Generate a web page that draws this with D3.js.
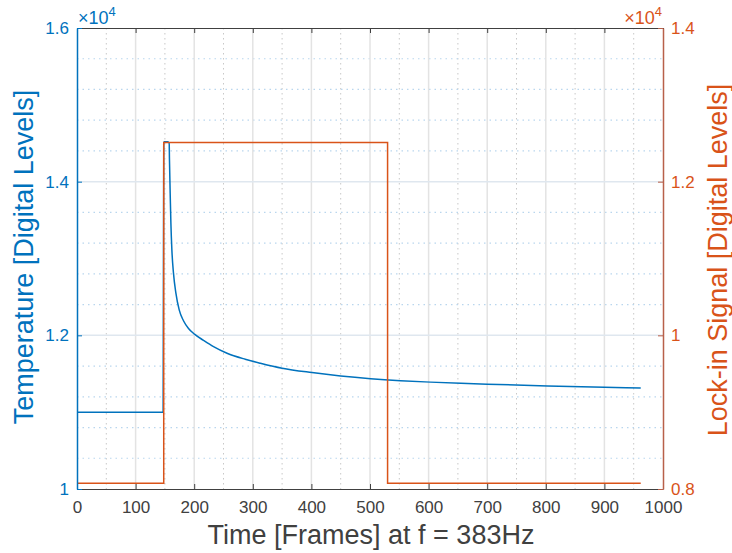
<!DOCTYPE html>
<html>
<head>
<meta charset="utf-8">
<script src="https://cdn.jsdelivr.net/npm/d3@7/dist/d3.min.js"></script>
<style>
  html, body { margin: 0; padding: 0; background: #fff; }
  svg { display: block; font-family: "Liberation Sans", Arial, Helvetica, sans-serif; }
</style>
</head>
<body>
<svg id="chart" width="732" height="553"></svg>
<script>
// Temperature response (left axis), digital levels
const tempFrames = [0, 147, 148, 149, 152, 155, 157.3, 157.8, 159, 160.2, 161.9, 164.6, 168.7, 174.4, 181.7, 190.3, 200.5, 215.9, 233, 256, 287, 313, 350, 401, 450, 501, 552, 603, 655, 700, 803, 900, 962];
const tempValues = [11000, 11000, 14500, 14520, 14520, 14520, 14500, 14284, 13850, 13464, 13112, 12813, 12552, 12331, 12190, 12090, 12015, 11935, 11853, 11767, 11689, 11637, 11572, 11515, 11471, 11436, 11410, 11391, 11376, 11364, 11341, 11324, 11315];

// Lock-in excitation signal (right axis), step function
const lockFrames = [0, 148, 530, 962];
const lockValues = [8075, 12510, 8075, 8075];

// Axis ticks
const xTicks = [0, 100, 200, 300, 400, 500, 600, 700, 800, 900, 1000];
const xMinorTicks = [50, 150, 250, 350, 450, 550, 650, 750, 850, 950];
const yLeftTicks = [10000, 12000, 14000, 16000];
const yRightTicks = [8000, 10000, 12000, 14000];
const yMinorTicks = [10400, 10800, 11200, 11600, 12400, 12800, 13200, 13600, 14400, 14800, 15200, 15600];

const blue = "#0072BD";
const orange = "#D95319";
const dark = "#404040";

const plotLeft = 77, plotRight = 663, plotTop = 28, plotBottom = 489;

const svg = d3.select("#chart");
const x = d3.scaleLinear().domain([0, 1000]).range([plotLeft, plotRight]);
const yL = d3.scaleLinear().domain([10000, 16000]).range([plotBottom, plotTop]);
const yR = d3.scaleLinear().domain([8000, 14000]).range([plotBottom, plotTop]);

const grid = svg.append("g");
// minor grid (dotted)
grid.selectAll(".xm").data(xMinorTicks).join("line")
  .attr("x1", d => x(d)).attr("x2", d => x(d)).attr("y1", plotTop).attr("y2", plotBottom)
  .attr("stroke", "#c8c8c8").attr("stroke-width", 1).attr("stroke-dasharray", "1.5,3.5");
grid.selectAll(".ym").data(yMinorTicks).join("line")
  .attr("x1", plotLeft).attr("x2", plotRight).attr("y1", d => yL(d)).attr("y2", d => yL(d))
  .attr("stroke", "#b9d6ee").attr("stroke-width", 1.2).attr("stroke-dasharray", "1.5,4");
// major grid (solid)
grid.selectAll(".xM").data(xTicks.slice(1, -1)).join("line")
  .attr("x1", d => x(d)).attr("x2", d => x(d)).attr("y1", plotTop).attr("y2", plotBottom)
  .attr("stroke", "#e3e3e3").attr("stroke-width", 1.5);
grid.selectAll(".yM").data(yLeftTicks.slice(1, -1)).join("line")
  .attr("x1", plotLeft).attr("x2", plotRight).attr("y1", d => yL(d)).attr("y2", d => yL(d))
  .attr("stroke", "#dfe7ef").attr("stroke-width", 1.5);

// data lines
const tempData = tempFrames.map((f, i) => [f, tempValues[i]]);
const lockData = lockFrames.map((f, i) => [f, lockValues[i]]);

svg.append("path").datum(tempData)
  .attr("fill", "none").attr("stroke", blue).attr("stroke-width", 1.5)
  .attr("d", d3.line().curve(d3.curveMonotoneX).x(d => x(d[0])).y(d => yL(d[1])));

svg.append("path").datum(lockData)
  .attr("fill", "none").attr("stroke", orange).attr("stroke-width", 1.5)
  .attr("d", d3.line().curve(d3.curveStepAfter).x(d => x(d[0])).y(d => yR(d[1])));

// axes
const fmt = d => String(+(d / 1e4).toFixed(1));
const tickFont = "17px";

const xAxis = svg.append("g").attr("transform", `translate(0,${plotBottom})`)
  .call(d3.axisBottom(x).tickValues(xTicks).tickFormat(d3.format("d"))
    .tickSizeInner(-5).tickSizeOuter(0).tickPadding(12));
xAxis.select(".domain").attr("stroke", dark).attr("stroke-width", 1.2);
xAxis.selectAll(".tick line").attr("stroke", dark);
xAxis.selectAll("text").attr("fill", dark).style("font-size", tickFont);

const xTop = svg.append("g").attr("transform", `translate(0,${plotTop})`)
  .call(d3.axisTop(x).tickValues(xTicks).tickSizeInner(-5).tickSizeOuter(0).tickFormat(""));
xTop.select(".domain").attr("stroke", dark).attr("stroke-width", 1.2);
xTop.selectAll(".tick line").attr("stroke", dark);

const yAxisL = svg.append("g").attr("transform", `translate(${plotLeft},0)`)
  .call(d3.axisLeft(yL).tickValues(yLeftTicks).tickSizeInner(-5).tickSizeOuter(0).tickPadding(8).tickFormat(fmt));
yAxisL.select(".domain").attr("stroke", blue).attr("stroke-width", 1.5);
yAxisL.selectAll(".tick line").attr("stroke", blue);
yAxisL.selectAll("text").attr("fill", blue).style("font-size", tickFont);

const yAxisR = svg.append("g").attr("transform", `translate(${plotRight},0)`)
  .call(d3.axisRight(yR).tickValues(yRightTicks).tickSizeInner(-5).tickSizeOuter(0).tickPadding(8).tickFormat(fmt));
yAxisR.select(".domain").attr("stroke", "#b8604a").attr("stroke-width", 1.5);
yAxisR.selectAll(".tick line").attr("stroke", "#b8604a");
yAxisR.selectAll("text").attr("fill", orange).style("font-size", tickFont);

// exponent markers
function exponent(xpos, anchor, color) {
  const t = svg.append("text").attr("x", xpos).attr("y", 24)
    .attr("text-anchor", anchor).attr("fill", color).style("font-size", "18px");
  t.append("tspan").text("\u00D710");
  t.append("tspan").attr("dy", -8).style("font-size", "13px").text("4");
}
exponent(78, "start", blue);
exponent(662, "end", orange);

// axis titles
svg.append("text").attr("x", 371).attr("y", 544).attr("text-anchor", "middle")
  .attr("fill", dark).style("font-size", "27px").text("Time [Frames] at f = 383Hz");

svg.append("text").attr("transform", "translate(33,257) rotate(-90)").attr("text-anchor", "middle")
  .attr("fill", blue).style("font-size", "27px").text("Temperature [Digital Levels]");

svg.append("text").attr("transform", "translate(727,260) rotate(-90)").attr("text-anchor", "middle")
  .attr("fill", orange).style("font-size", "27px").text("Lock-in Signal [Digital Levels]");
</script>
</body>
</html>
